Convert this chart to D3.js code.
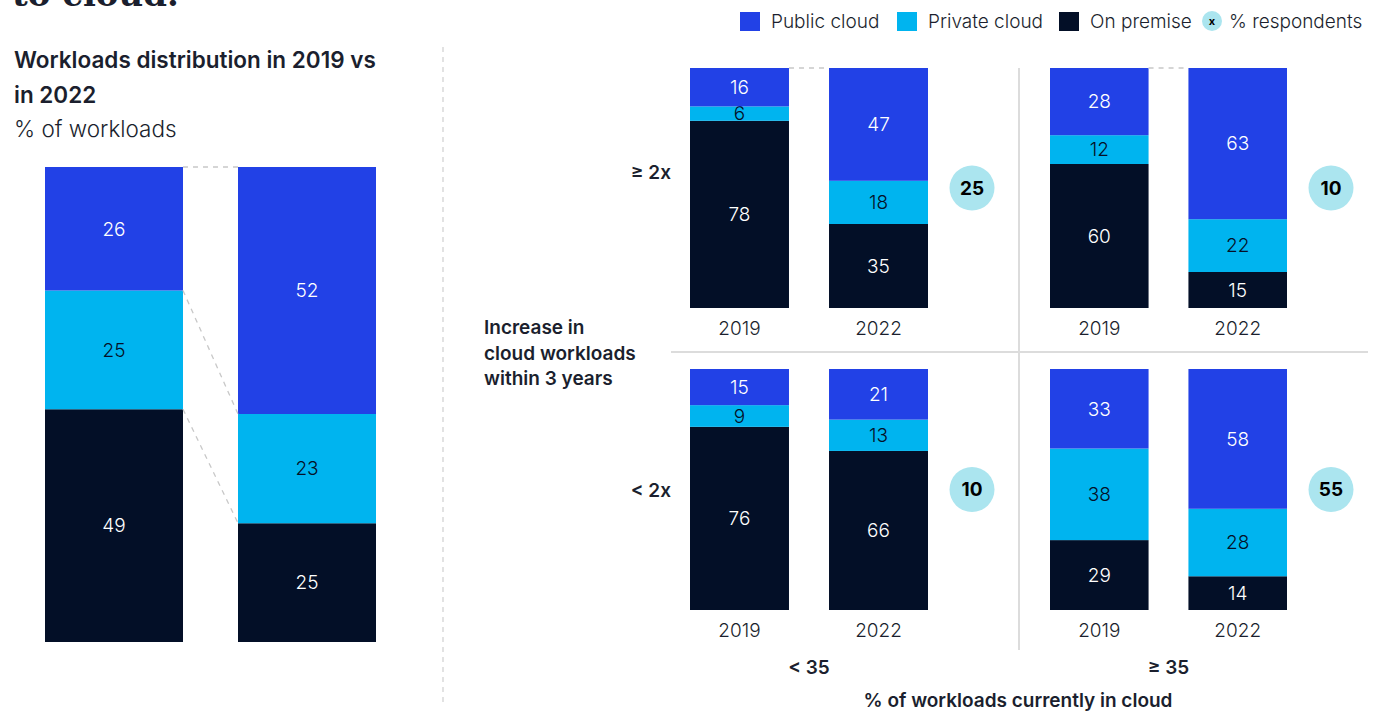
<!DOCTYPE html>
<html lang="en">
<head>
<meta charset="UTF-8">
<title>Workloads distribution</title>
<script src="https://cdnjs.cloudflare.com/ajax/libs/d3/7.8.5/d3.min.js"></script>
<style>
  html, body { margin: 0; padding: 0; background: #fff; }
  svg { display: block; font-family: Inter, "Liberation Sans", sans-serif; }
</style>
</head>
<body>
<svg id="chart" width="1382" height="712"></svg>
<script>
// ---- data ----
var years = ["2019", "2022"];
var seriesKeys = ["onPremise", "privateCloud", "publicCloud"]; // bottom to top
var seriesNames = ["Public cloud", "Private cloud", "On premise"];

// overall distribution (left chart)
var overallPublic = [26, 52];
var overallPrivate = [25, 23];
var overallOnPremise = [49, 25];

// 2x2 panels: order = [≥2x/<35, ≥2x/≥35, <2x/<35, <2x/≥35]
var rowLabels = ["≥ 2x", "< 2x"];
var colLabels = ["< 35", "≥ 35"];
var panelPublic = [[16, 47], [28, 63], [15, 21], [33, 58]];
var panelPrivate = [[6, 18], [12, 22], [9, 13], [38, 28]];
var panelOnPremise = [[78, 35], [60, 15], [76, 66], [29, 14]];
var respondents = [25, 10, 10, 55];

var colors = { publicCloud: "#2241e6", privateCloud: "#00b4ef", onPremise: "#030f27" };
var textColors = { publicCloud: "#ffffff", privateCloud: "#051027", onPremise: "#ffffff" };
var ink = "#1b1f2e";

var svg = d3.select("#chart");

function rows(pub, priv, onp) {
  return years.map(function (y, i) {
    return { year: y, publicCloud: pub[i], privateCloud: priv[i], onPremise: onp[i] };
  });
}
var stack = d3.stack().keys(seriesKeys);

// draw one pair of stacked bars
function drawBars(g, data, x, y, fontSize) {
  var layers = stack(data);
  var layer = g.selectAll(".layer").data(layers).enter().append("g").attr("class", "layer");
  layer.selectAll("rect")
    .data(function (d) { return d.map(function (p) { p.key = d.key; return p; }); })
    .enter().append("rect")
    .attr("x", function (d) { return x(d.data.year); })
    .attr("width", x.bandwidth())
    .attr("y", function (d) { return y(d[1]); })
    .attr("height", function (d) { return y(d[0]) - y(d[1]); })
    .attr("fill", function (d) { return colors[d.key]; });
  layer.selectAll("text")
    .data(function (d) { return d; })
    .enter().append("text")
    .attr("x", function (d) { return x(d.data.year) + x.bandwidth() / 2; })
    .attr("y", function (d) { return (y(d[0]) + y(d[1])) / 2; })
    .attr("dy", "0.36em")
    .attr("text-anchor", "middle")
    .attr("font-size", fontSize)
    .attr("font-weight", 300)
    .attr("fill", function (d) { return textColors[d.key]; })
    .text(function (d) { return d.data[d.key]; });
  return layers;
}

// ---- page title remnant (cut by the top edge, as in the source) & left heading ----
svg.append("text").attr("x", 12).attr("y", 6)
  .attr("font-family", "'DejaVu Serif', 'Liberation Serif', serif")
  .attr("font-size", 34).attr("font-weight", "bold").attr("fill", ink)
  .text("to cloud.");

svg.append("text").attr("x", 14).attr("y", 68).attr("font-size", 22.5).attr("font-weight", 600).attr("fill", ink)
  .text("Workloads distribution in 2019 vs");
svg.append("text").attr("x", 14).attr("y", 103).attr("font-size", 22.5).attr("font-weight", 600).attr("fill", ink)
  .text("in 2022");
svg.append("text").attr("x", 14).attr("y", 137).attr("font-size", 22.5).attr("font-weight", 300).attr("fill", ink)
  .text("% of workloads");

// divider
svg.append("line").attr("x1", 443).attr("x2", 443).attr("y1", 47).attr("y2", 702)
  .attr("stroke", "#cfcfcf").attr("stroke-width", 1.2).attr("stroke-dasharray", "5,5");

// ---- left chart ----
var xLeft = d3.scaleBand().domain(years).range([45, 376]).paddingInner(0.285);
var yLeft = d3.scaleLinear().domain([0, 100]).range([642, 167]);
var leftG = svg.append("g");
var leftLayers = drawBars(leftG, rows(overallPublic, overallPrivate, overallOnPremise), xLeft, yLeft, 19);

// dashed connectors between the bars
var connectors = leftLayers.map(function (l) { return [l[0][1], l[1][1]]; });
leftG.selectAll(".conn").data(connectors).enter().append("line")
  .attr("x1", xLeft("2019") + xLeft.bandwidth())
  .attr("x2", xLeft("2022"))
  .attr("y1", function (d) { return yLeft(d[0]); })
  .attr("y2", function (d) { return yLeft(d[1]); })
  .attr("stroke", "#c8c8c8").attr("stroke-width", 1.3).attr("stroke-dasharray", "5,5");

// ---- 2x2 panels ----
var colRanges = [[690, 928], [1050, 1287]];
var rowRanges = [[308, 68], [610, 369]];

// grid lines
svg.append("line").attr("x1", 671).attr("x2", 1368).attr("y1", 352).attr("y2", 352)
  .attr("stroke", "#dcdcdc").attr("stroke-width", 2);
svg.append("line").attr("x1", 1019).attr("x2", 1019).attr("y1", 68).attr("y2", 650)
  .attr("stroke", "#dcdcdc").attr("stroke-width", 2);

panelPublic.forEach(function (pub, i) {
  var r = Math.floor(i / 2), c = i % 2;
  var x = d3.scaleBand().domain(years).range(colRanges[c]).paddingInner(0.288);
  var y = d3.scaleLinear().domain([0, 100]).range(rowRanges[r]);
  var g = svg.append("g");
  drawBars(g, rows(pub, panelPrivate[i], panelOnPremise[i]), x, y, 19);

  if (r === 0) {
    g.append("line")
      .attr("x1", x("2019") + x.bandwidth()).attr("x2", x("2022"))
      .attr("y1", y(100)).attr("y2", y(100))
      .attr("stroke", "#c8c8c8").attr("stroke-width", 1.3).attr("stroke-dasharray", "5,5");
  }

  // year axis labels
  var axis = d3.axisBottom(x).tickSize(0).tickPadding(0);
  var ag = g.append("g").attr("transform", "translate(0," + (y(0) + 13) + ")").call(axis);
  ag.select(".domain").remove();
  ag.selectAll("text").attr("font-family", "Inter, 'Liberation Sans', sans-serif")
    .attr("font-size", 19).attr("font-weight", 300).attr("fill", ink);

  // respondents bubble
  var cx = colRanges[c][1] + 44, cy = (rowRanges[r][0] + rowRanges[r][1]) / 2;
  g.append("circle").attr("cx", cx).attr("cy", cy).attr("r", 22.5).attr("fill", "#abe5ef");
  g.append("text").attr("x", cx).attr("y", cy).attr("dy", "0.36em").attr("text-anchor", "middle")
    .attr("font-size", 19).attr("font-weight", 700).attr("fill", "#000").text(respondents[i]);
});

// row labels
var rowLabelY = [172, 490];
rowLabels.forEach(function (t, r) {
  svg.append("text").attr("x", 671).attr("y", rowLabelY[r])
    .attr("dy", "0.36em").attr("text-anchor", "end")
    .attr("font-size", 19).attr("font-weight", 600).attr("fill", ink).text(t);
});

["Increase in", "cloud workloads", "within 3 years"].forEach(function (t, k) {
  svg.append("text").attr("x", 484).attr("y", 334 + k * 25.5)
    .attr("font-size", 19).attr("font-weight", 600).attr("fill", ink).text(t);
});

// column labels
colLabels.forEach(function (t, c) {
  svg.append("text").attr("x", (colRanges[c][0] + colRanges[c][1]) / 2).attr("y", 674)
    .attr("text-anchor", "middle").attr("font-size", 19).attr("font-weight", 600).attr("fill", ink).text(t);
});
svg.append("text").attr("x", 1018).attr("y", 707).attr("text-anchor", "middle")
  .attr("font-size", 19).attr("font-weight", 600).attr("fill", ink).text("% of workloads currently in cloud");

// ---- legend ----
var legendX = [740, 897, 1059];
var legendKeys = ["publicCloud", "privateCloud", "onPremise"];
legendKeys.forEach(function (k, i) {
  svg.append("rect").attr("x", legendX[i]).attr("y", 12).attr("width", 20).attr("height", 19).attr("fill", colors[k]);
  svg.append("text").attr("x", legendX[i] + 31).attr("y", 28).attr("font-size", 19).attr("font-weight", 300)
    .attr("fill", ink).text(seriesNames[i]);
});
svg.append("circle").attr("cx", 1212).attr("cy", 21).attr("r", 10).attr("fill", "#abe5ef");
svg.append("text").attr("x", 1212).attr("y", 21).attr("dy", "0.36em").attr("text-anchor", "middle")
  .attr("font-size", 11).attr("font-weight", 700).attr("fill", "#000").text("x");
svg.append("text").attr("x", 1229).attr("y", 28).attr("font-size", 19).attr("font-weight", 300)
  .attr("fill", ink).text("% respondents");
</script>
</body>
</html>
